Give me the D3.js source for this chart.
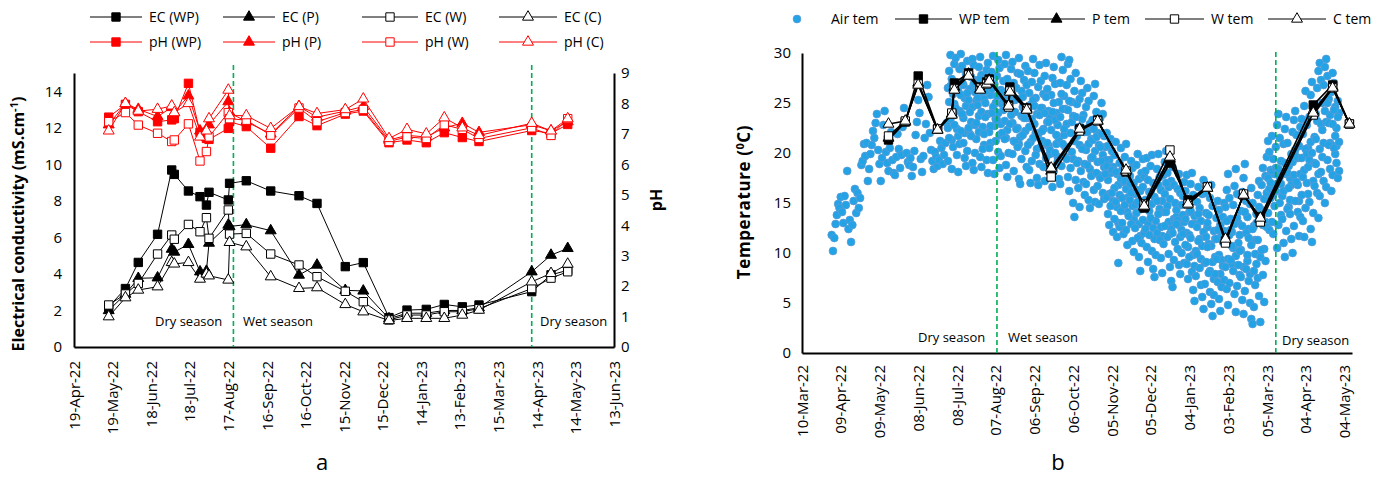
<!DOCTYPE html>
<html>
<head>
<meta charset="utf-8">
<script src="https://cdn.jsdelivr.net/npm/d3@7"></script>
<style>
body { margin: 0; background: #fff; }
text { font-family: "Open Sans", sans-serif; fill: #000; }
</style>
</head>
<body>
<script>
// sampling dates, shared by both panels
var sampleDates = ["2022-05-16","2022-05-29","2022-06-08","2022-06-23","2022-07-04","2022-07-06","2022-07-17",
  "2022-07-26","2022-07-31","2022-08-02","2022-08-17","2022-08-18","2022-08-31","2022-09-19","2022-10-11",
  "2022-10-25","2022-11-16","2022-11-30","2022-12-20","2023-01-03","2023-01-18","2023-02-01","2023-02-15",
  "2023-02-28","2023-04-10","2023-04-25","2023-05-08"];

// panel a: EC (mS/cm)
var ecWP = [2.2,3.2,4.63,6.17,9.69,9.45,8.54,8.23,7.77,8.47,8.05,8.96,9.1,8.54,8.28,7.86,4.4,4.62,1.61,2.02,2.06,2.33,2.2,2.3,3.03,3.95,4.2];
var ecP  = [2.0,2.9,3.76,3.79,5.36,5.2,5.62,4.12,4.15,5.69,6.68,6.6,6.7,6.37,3.94,4.49,3.1,3.07,1.55,1.85,1.85,2.0,2.0,2.15,4.12,5.03,5.4];
var ecW  = [2.3,2.9,3.48,5.09,6.13,5.9,6.71,6.31,7.08,5.95,7.5,6.18,6.22,5.09,4.49,3.85,3.05,2.48,1.48,1.75,1.75,1.93,1.93,2.1,3.2,3.77,4.12];
var ecC  = [1.66,2.7,3.12,3.3,4.63,4.55,4.63,3.72,4.0,3.9,3.67,5.73,5.49,3.85,3.21,3.25,2.33,1.93,1.45,1.57,1.57,1.57,1.75,2.02,3.57,4.03,4.54];
// panel a: pH
var phWP = [7.55,7.97,7.73,7.4,7.46,7.5,8.66,7.05,6.85,6.82,7.18,7.4,7.24,6.53,7.57,7.27,7.65,7.75,6.71,6.8,6.71,7.04,6.88,6.75,7.11,7.02,7.31];
var phP  = [7.3,8.0,7.81,7.57,7.87,7.7,8.25,7.1,6.9,7.3,8.06,7.7,7.4,7.0,7.9,7.55,7.75,7.9,6.8,6.95,6.9,7.2,7.35,7.05,7.3,7.1,7.4];
var phW  = [7.4,7.7,7.29,7.02,6.75,6.8,7.33,6.11,6.42,6.9,7.7,7.5,7.45,6.96,7.85,7.4,7.7,7.8,6.75,6.9,6.85,7.3,7.15,6.85,7.2,6.95,7.5];
var phC  = [7.1,8.0,7.75,7.81,7.92,7.7,8.0,6.9,7.1,7.5,8.44,7.6,7.6,7.18,7.9,7.67,7.8,8.15,6.85,7.15,7.0,7.53,7.2,6.95,7.35,7.1,7.5];

// panel b: water temperature
var tempWP = [21.3,23.1,27.7,22.4,23.9,27.0,28.0,26.6,27.1,27.4,24.8,26.6,24.5,18.3,22.4,23.3,18.1,14.5,19.0,15.3,16.6,11.2,15.8,13.6,24.8,26.8,22.9];
var tempP  = [21.5,23.1,27.0,22.3,23.9,26.6,27.9,26.4,27.0,27.3,24.7,26.3,24.4,18.2,22.3,23.2,18.2,14.6,19.4,15.1,16.5,11.3,15.8,13.4,24.2,26.6,22.9];
var tempW  = [21.7,23.2,26.9,22.4,24.0,26.4,27.8,26.5,26.9,27.2,24.6,26.2,24.4,17.6,22.2,23.2,18.2,14.9,20.3,14.9,16.6,11.0,15.9,13.1,23.8,26.5,22.9];
var tempC  = [22.9,23.2,26.8,22.3,23.8,26.3,27.7,26.3,26.9,27.2,24.7,26.1,24.3,18.5,22.4,23.2,18.3,14.7,19.6,14.9,16.5,11.4,15.8,13.5,24.0,26.5,22.9];

// panel b: air temperature readings, daily (upper from 2 Apr 2022, middle and lower from 1 Jul 2022)
var airHighStart = "2022-04-02";
var airHigh = [
  11.8,10.2,11.5,12.9,13.8,14.9,14.5,15.6,14.1, 13.0,15.7,14.8,18.2,12.4,13.3,11.1,12.8,15.2,16.4, 14.0,16.0,14.5,15.5,18.8,19.2,20.9,19.7,21.0,17.2,
  18.4,19.9,20.8,22.2,21.5,23.0,23.9,20.3,18.9,17.2,19.5,22.8,24.2,20.1,19.0,18.2,20.5,22.1,19.3,18.0,17.8,19.6,21.9,20.4,18.5,19.8,22.6,24.5,23.2,20.0,19.1,
  18.8,19.5,17.7,18.6,20.2,21.8,23.1,25.3,24.0,19.4,18.1,19.7,21.5,22.9,26.8,25.6,22.0,20.3,19.2,18.4,20.1,19.6,18.7,19.3,21.2,20.5,18.9,19.8,21.0,23.0,
  26.5,28.2,29.8,27.4,25.9,28.9,29.5,27.0,26.2,28.4,29.9,28.7,26.8,25.5,27.9,29.2,28.1,26.4,27.6,29.4,28.8,26.1,25.2,27.3,28.6,29.6,27.8,26.0,25.4,27.1,28.3,
  29.0,27.5,25.8,28.1,29.7,26.9,25.0,27.7,29.3,28.5,26.3,24.9,27.2,28.9,29.8,27.4,25.6,26.7,28.4,29.1,27.0,25.3,26.5,28.0,29.5,27.9,26.2,24.6,27.3,28.7,26.8,
  28.2,26.0,24.8,27.1,29.4,28.0,25.5,23.9,26.6,28.8,27.2,24.5,25.9,27.7,29.0,26.4,24.2,23.6,25.8,27.5,28.6,26.9,24.0,22.8,25.1,27.0,29.6,28.3,25.7,24.4,
  26.8,28.9,29.3,27.4,25.1,23.7,26.2,28.0,24.9,22.6,25.4,27.2,26.0,23.8,22.1,24.6,26.5,25.2,22.9,21.4,23.3,25.7,26.9,24.1,22.0,20.8,23.5,25.0,23.9,21.7,20.6,
  22.0,20.7,19.3,21.4,20.2,18.6,19.8,21.1,17.9,16.8,19.0,20.5,18.3,17.1,19.6,20.9,18.1,16.4,17.7,19.2,18.5,17.0,15.9,18.8,19.9,17.4,16.2,18.0,19.4,17.6,
  18.2,19.5,17.3,16.1,18.7,19.8,17.0,15.6,16.9,18.4,19.9,17.6,16.3,15.2,17.8,19.1,20.2,18.0,16.6,15.4,17.2,18.6,16.8,15.0,14.3,16.4,17.9,16.0,14.8,15.7,17.1,
  16.2,17.8,15.4,14.1,16.9,18.0,15.8,13.7,12.9,15.1,16.6,14.5,13.2,15.9,17.3,16.0,14.0,12.6,13.8,15.5,16.8,14.7,12.2,11.4,13.5,15.2,14.3,12.8,11.9,13.6,15.0,
  14.6,16.3,17.9,15.5,13.4,12.1,14.8,16.7,18.4,15.9,13.0,11.8,14.2,16.1,17.5,18.9,15.2,13.6,12.4,14.9,16.5,15.0,12.7,11.3,13.9,15.8,17.2,14.4,
  16.8,18.5,15.4,17.7,19.6,21.2,20.1,18.3,21.7,19.4,17.9,20.6,22.8,23.9,21.5,19.2,18.0,20.9,22.4,23.6,21.0,18.7,17.5,19.9,22.1,23.3,24.2,21.8,19.5,20.7,22.6,
  23.4,21.9,24.7,26.2,22.8,20.5,23.6,25.8,27.1,24.3,21.6,23.9,26.5,28.2,29.0,27.3,25.0,26.8,28.6,29.4,27.7,25.4,23.8,26.1,28.0,27.0,24.6,22.5,25.2,24.0
];
var airLowStart = "2022-07-01";
var airMid = [
  22.5,25.1,26.7,21.3,23.8,24.9,26.3,22.4,21.7,24.2,25.8,27.1,23.5,22.0,24.7,26.0,25.3,21.9,23.1,24.6,26.9,22.8,21.4,25.5,23.7,27.4,24.1,22.6,20.8,25.0,26.2,
  23.9,22.1,21.0,26.4,24.6,22.7,23.4,25.7,24.0,21.8,22.9,26.1,25.3,23.2,21.5,22.3,24.8,26.6,25.9,23.0,21.2,24.1,25.4,22.5,20.9,21.6,23.7,25.6,24.4,22.2,23.5,
  24.2,22.6,21.1,23.4,25.3,24.7,22.0,20.4,21.9,23.8,24.5,21.2,22.4,24.0,25.6,23.1,20.7,19.9,22.3,24.1,25.0,23.3,20.9,19.6,21.4,23.6,25.9,24.4,21.8,20.6,
  22.9,24.3,25.2,22.0,23.1,19.4,21.2,23.6,21.7,19.2,20.8,22.6,23.4,20.5,18.9,20.3,22.1,20.9,18.4,19.5,21.3,22.4,20.2,21.6,19.1,17.8,20.6,21.9,19.8,18.6,19.3,
  18.7,17.3,15.9,18.0,18.3,15.2,16.5,18.1,14.6,13.0,15.8,17.4,15.5,14.3,17.2,16.4,14.1,15.6,16.9,16.0,14.7,13.4,14.8,16.3,15.1,12.9,11.7,14.4,16.6,14.9,
  15.3,14.8,13.0,14.2,16.1,14.9,12.5,11.4,13.2,15.2,16.8,14.4,12.6,11.7,14.1,15.9,17.0,14.7,13.1,11.9,12.4,12.0,13.4,13.0,13.6,13.3,12.8,11.6,12.3,13.8,13.1,
  13.4,12.0,10.6,11.8,14.2,12.9,9.8,8.7,10.2,12.6,13.9,11.4,9.4,10.7,12.1,9.0,11.6,13.0,10.9,8.2,10.7,9.1,7.4,9.6,11.4,12.3,9.8,7.9,9.3,11.1,12.2,
  11.6,13.2,9.4,11.8,12.3,8.9,10.5,12.9,9.7,13.5,11.0,7.8,10.3,12.7,8.6,14.1,12.0,9.2,11.5,7.9,10.8,12.4,8.2,9.9,13.0,11.3,14.6,9.6,
  13.5,12.8,10.4,13.1,16.0,17.5,16.4,17.0,18.2,15.8,16.3,18.5,16.9,18.4,17.6,13.8,15.7,16.2,19.0,17.9,18.0,14.6,15.3,16.8,19.1,17.8,20.3,19.6,16.8,15.2,17.9,
  19.5,17.6,18.3,20.4,19.9,15.9,19.3,21.1,20.0,17.2,19.0,21.4,23.2,17.9,20.4,22.9,22.3,21.0,24.2,23.1,25.0,23.0,21.0,20.8,22.9,24.3,19.9,20.7,23.6,21.1
];
var airLow = [
  19.2,21.5,23.4,18.4,20.6,22.8,24.5,19.8,18.1,20.9,22.2,23.9,21.0,19.5,18.7,20.2,22.5,24.1,21.7,19.0,18.3,20.0,23.0,24.8,22.1,19.6,18.6,20.4,21.9,23.6,19.3,
  18.0,20.5,22.7,24.0,19.3,17.9,21.2,23.3,20.1,18.5,19.7,22.0,24.3,21.4,18.8,17.6,20.0,22.9,23.8,19.9,18.2,21.1,22.4,20.6,17.4,16.9,19.4,21.8,23.5,20.2,18.6,
  20.8,18.3,17.0,19.2,21.5,22.9,19.8,17.5,16.8,18.9,20.6,22.2,18.6,17.2,19.5,21.0,23.1,20.3,17.8,16.6,18.2,20.0,21.8,19.1,17.4,16.9,18.7,20.9,22.4,19.6,
  19.4,17.6,16.2,18.5,20.1,15.0,13.6,17.3,19.0,16.5,14.6,18.2,20.4,17.1,15.8,16.9,18.8,15.3,14.5,17.7,19.6,16.3,15.1,18.0,16.7,14.9,17.5,19.2,16.0,15.4,17.9,
  15.6,13.9,12.8,14.7,16.0,12.1,13.4,15.1,11.6,9.0,12.6,14.2,13.0,11.9,14.8,12.3,10.8,13.7,15.3,12.9,11.2,10.1,12.5,14.0,11.5,9.6,8.2,11.0,13.3,12.0,
  12.4,10.6,9.1,11.8,13.5,10.2,8.4,7.6,9.8,12.0,13.9,11.3,9.5,8.0,10.9,12.7,14.1,11.6,9.9,8.6,7.2,6.6,9.3,11.1,12.9,10.4,8.8,7.9,10.0,11.9,9.0,
  10.8,8.9,7.4,9.6,11.5,8.1,6.3,5.2,7.7,9.9,11.2,8.5,6.8,5.6,4.4,6.9,9.1,10.6,8.0,6.1,4.9,3.7,5.8,7.9,9.4,7.1,5.4,4.2,6.6,8.7,7.3,
  8.6,6.4,4.8,7.0,9.3,10.7,8.2,5.9,4.1,6.7,8.8,10.2,7.6,5.3,3.9,6.2,8.4,9.8,7.2,5.0,3.4,2.9,4.6,6.8,8.9,7.5,5.7,3.1,
  10.3,7.8,5.1,9.2,12.6,14.0,12.3,15.5,13.1,11.9,14.7,16.2,10.5,12.8,15.0,16.9,13.4,11.0,9.6,12.2,14.4,16.5,13.9,11.4,10.0,12.7,15.2,17.1,14.1,11.7,13.6,
  15.8,13.2,11.6,14.5,17.0,18.6,15.1,12.4,11.1,14.0,16.7,18.9,16.0,13.5,15.7,18.1,19.6,17.2,15.0,16.6,19.3,20.8,18.4,16.2,17.8,20.5,21.7,19.0,17.5,18.2
];

var ecTicks = [0,2,4,6,8,10,12,14];
var phTicks = [0,1,2,3,4,5,6,7,8,9];
var tempTicks = [0,5,10,15,20,25,30];
var seasonBreaksA = ["2022-08-21","2023-04-10"];
var seasonBreaksB = ["2022-08-08","2023-03-12"];

var parse = d3.utcParse("%Y-%m-%d");
var fmt = d3.utcFormat("%d-%b-%y");
var dates = sampleDates.map(parse);

var svg = d3.select("body").append("svg").attr("width", 1389).attr("height", 479);

var green = "#00b050", red = "#ff0000", airFill = "#22a3e6", airEdge = "#5b9bd5";

function marker(shape) {
  return d3.symbol().type(shape == "sq" ? d3.symbolSquare : d3.symbolTriangle).size(shape == "sq" ? 70 : 52)();
}

function series(g, x, y, vals, color, shape, filled, lw) {
  var pts = vals.map(function(v, i) { return [dates[i], v]; });
  g.append("path").datum(pts)
    .attr("d", d3.line().x(function(d) { return x(d[0]); }).y(function(d) { return y(d[1]); }))
    .attr("fill", "none").attr("stroke", color).attr("stroke-width", lw);
  g.selectAll(null).data(pts).enter().append("path")
    .attr("d", marker(shape))
    .attr("transform", function(d) { return "translate(" + x(d[0]) + "," + y(d[1]) + ")"; })
    .attr("fill", filled ? color : "#fff").attr("stroke", color).attr("stroke-width", 1);
}

function dateTicks(start, n) {
  var s = parse(start), out = [];
  for (var i = 0; i < n; i++) out.push(d3.utcDay.offset(s, i * 30));
  return out;
}

function styleAxis(g) {
  g.select(".domain").attr("stroke", "#000").attr("stroke-width", 2);
  g.selectAll("text").style("font-size", "15px").style("font-family", "Open Sans");
}

function legendItem(g, x0, x1, y, color, shape, filled, label, lw) {
  g.append("line").attr("x1", x0).attr("x2", x1).attr("y1", y).attr("y2", y).attr("stroke", color).attr("stroke-width", lw);
  g.append("path").attr("d", marker(shape)).attr("transform", "translate(" + (x0 + x1) / 2 + "," + y + ")")
    .attr("fill", filled ? color : "#fff").attr("stroke", color);
  g.append("text").attr("x", x1 + 7).attr("y", y + 5).style("font-size", "14px").text(label);
}

// ---------- panel a ----------
var xa = d3.scaleUtc().domain([parse("2022-04-19"), parse("2023-06-13")]).range([74, 614]);
var yEC = d3.scaleLinear().domain([0, 15]).range([347, 73]);
var yPH = d3.scaleLinear().domain([0, 9]).range([347, 73]);

var ga = svg.append("g");

ga.append("g").attr("transform", "translate(0,347)")
  .call(d3.axisBottom(xa).tickValues(dateTicks("2022-04-19", 15)).tickFormat(fmt).tickSize(0).tickSizeOuter(0))
  .call(styleAxis)
  .selectAll("text").attr("transform", "rotate(-90)").attr("text-anchor", "end")
  .attr("x", -14).attr("y", 0).attr("dy", "0.35em");

ga.append("g").attr("transform", "translate(74,0)")
  .call(d3.axisLeft(yEC).tickValues(ecTicks).tickSize(0).tickSizeOuter(0).tickPadding(12))
  .call(styleAxis);

ga.append("g").attr("transform", "translate(614,0)")
  .call(d3.axisRight(yPH).tickValues(phTicks).tickSize(0).tickSizeOuter(0).tickPadding(7))
  .call(styleAxis);

seasonBreaksA.forEach(function(d) {
  ga.append("line").attr("x1", xa(parse(d))).attr("x2", xa(parse(d))).attr("y1", 65).attr("y2", 347)
    .attr("stroke", green).attr("stroke-width", 1.6).attr("stroke-dasharray", "5,3");
});

series(ga, xa, yEC, ecWP, "#000", "sq", true, 1);
series(ga, xa, yEC, ecP, "#000", "tri", true, 1);
series(ga, xa, yEC, ecW, "#000", "sq", false, 1);
series(ga, xa, yEC, ecC, "#000", "tri", false, 1);
series(ga, xa, yPH, phWP, red, "sq", true, 1);
series(ga, xa, yPH, phP, red, "tri", true, 1);
series(ga, xa, yPH, phW, red, "sq", false, 1);
series(ga, xa, yPH, phC, red, "tri", false, 1);

ga.append("text").attr("x", 155).attr("y", 326).style("font-size", "13px").text("Dry season");
ga.append("text").attr("x", 243).attr("y", 326).style("font-size", "13px").text("Wet season");
ga.append("text").attr("x", 540).attr("y", 326).style("font-size", "13px").text("Dry season");

var ecLabel = ga.append("text").attr("transform", "translate(24,224) rotate(-90)").attr("text-anchor", "middle")
  .style("font-size", "16px").style("font-weight", "bold");
ecLabel.append("tspan").text("Electrical conductivity (mS.cm");
ecLabel.append("tspan").attr("dy", -6).style("font-size", "11px").text("-1");
ecLabel.append("tspan").attr("dy", 6).text(")");

ga.append("text").attr("transform", "translate(662,200) rotate(-90)").attr("text-anchor", "middle")
  .style("font-size", "16px").style("font-weight", "bold").text("pH");

ga.append("text").attr("x", 322).attr("y", 470).attr("text-anchor", "middle").style("font-size", "22px").text("a");

var la = ga.append("g");
legendItem(la, 90, 142, 17, "#000", "sq", true, "EC (WP)", 1);
legendItem(la, 223, 275, 17, "#000", "tri", true, "EC (P)", 1);
legendItem(la, 362, 418, 17, "#000", "sq", false, "EC (W)", 1);
legendItem(la, 499, 557, 17, "#000", "tri", false, "EC (C)", 1);
legendItem(la, 90, 142, 42, red, "sq", true, "pH (WP)", 1);
legendItem(la, 223, 275, 42, red, "tri", true, "pH (P)", 1);
legendItem(la, 362, 418, 42, red, "sq", false, "pH (W)", 1);
legendItem(la, 499, 557, 42, red, "tri", false, "pH (C)", 1);

// ---------- panel b ----------
var xb = d3.scaleUtc().domain([parse("2022-03-10"), parse("2023-05-10")]).range([802, 1352]);
var yT = d3.scaleLinear().domain([0, 30]).range([353, 53]);

var gb = svg.append("g");

gb.append("g").attr("transform", "translate(0,353)")
  .call(d3.axisBottom(xb).tickValues(dateTicks("2022-03-10", 15)).tickFormat(fmt).tickSize(0).tickSizeOuter(0))
  .call(styleAxis)
  .selectAll("text").attr("transform", "rotate(-90)").attr("text-anchor", "end")
  .attr("x", -12).attr("y", 0).attr("dy", "0.35em");

gb.append("g").attr("transform", "translate(802,0)")
  .call(d3.axisLeft(yT).tickValues(tempTicks).tickSize(0).tickSizeOuter(0).tickPadding(11))
  .call(styleAxis);

function airPoints(start, vals) {
  return vals.map(function(v, i) { return [d3.utcDay.offset(parse(start), i), v]; });
}
var airPts = airPoints(airHighStart, airHigh).concat(airPoints(airLowStart, airMid), airPoints(airLowStart, airLow));

gb.selectAll("circle.air").data(airPts).enter().append("circle").attr("class", "air")
  .attr("cx", function(d) { return xb(d[0]); }).attr("cy", function(d) { return yT(d[1]); })
  .attr("r", 3.9).attr("fill", airFill).attr("stroke", airEdge).attr("stroke-width", 0.8);

seasonBreaksB.forEach(function(d) {
  gb.append("line").attr("x1", xb(parse(d))).attr("x2", xb(parse(d))).attr("y1", 52).attr("y2", 353)
    .attr("stroke", green).attr("stroke-width", 1.6).attr("stroke-dasharray", "5,3");
});

series(gb, xb, yT, tempWP, "#000", "sq", true, 1.6);
series(gb, xb, yT, tempP, "#000", "tri", true, 1.6);
series(gb, xb, yT, tempW, "#000", "sq", false, 1.6);
series(gb, xb, yT, tempC, "#000", "tri", false, 1.6);

gb.append("text").attr("x", 918).attr("y", 342).style("font-size", "13px").text("Dry season");
gb.append("text").attr("x", 1008).attr("y", 342).style("font-size", "13px").text("Wet season");
gb.append("text").attr("x", 1282).attr("y", 345).style("font-size", "13px").text("Dry season");

var tLabel = gb.append("text").attr("transform", "translate(750,202) rotate(-90)").attr("text-anchor", "middle")
  .style("font-size", "17px").style("font-weight", "bold").style("letter-spacing", "0.6px");
tLabel.append("tspan").text("Temperature (");
tLabel.append("tspan").attr("dy", -6).style("font-size", "11px").text("0");
tLabel.append("tspan").attr("dy", 6).text("C)");

gb.append("text").attr("x", 1058).attr("y", 470).attr("text-anchor", "middle").style("font-size", "22px").text("b");

var lb = gb.append("g");
lb.append("circle").attr("cx", 797).attr("cy", 19).attr("r", 3.9).attr("fill", airFill).attr("stroke", airEdge).attr("stroke-width", 0.8);
lb.append("text").attr("x", 831).attr("y", 24).style("font-size", "14px").text("Air tem");
legendItem(lb, 895, 952, 19, "#000", "sq", true, "WP tem", 1);
legendItem(lb, 1028, 1085, 19, "#000", "tri", true, "P tem", 1);
legendItem(lb, 1145, 1204, 19, "#000", "sq", false, "W tem", 1);
legendItem(lb, 1268, 1326, 19, "#000", "tri", false, "C tem", 1);
</script>
</body>
</html>
